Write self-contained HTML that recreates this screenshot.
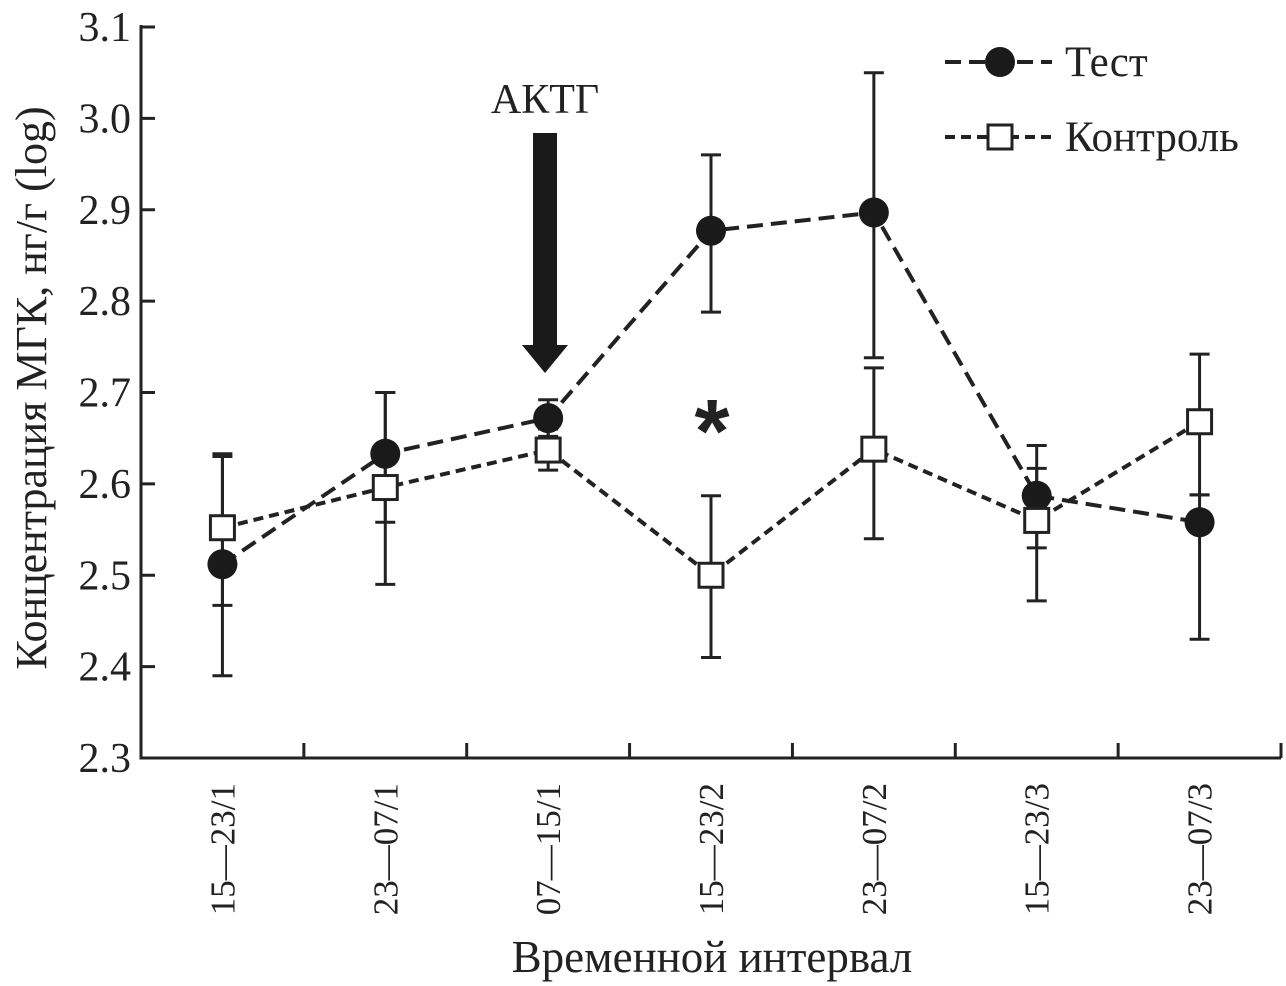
<!DOCTYPE html>
<html><head><meta charset="utf-8"><style>
body{margin:0;background:#fff;}
svg{display:block;font-family:"Liberation Serif",serif;}
</style></head><body>
<svg id="chart" width="1286" height="986" viewBox="0 0 1286 986">
<g id="axes"></g><g id="marks"></g>
<g>
 <line x1="945" y1="62" x2="1052" y2="62" stroke="#222" stroke-width="4" stroke-dasharray="16,8"/>
 <circle cx="1000" cy="62" r="15" fill="#1a1a1a"/>
 <text x="1065" y="76" font-size="43" fill="#222">Тест</text>
 <line x1="945" y1="137" x2="1052" y2="137" stroke="#222" stroke-width="4" stroke-dasharray="10,6"/>
 <rect x="988" y="125" width="24" height="24" fill="#fff" stroke="#222" stroke-width="3"/>
 <text x="1065" y="151" font-size="43" fill="#222">Контроль</text>
</g>
<g>
 <text x="545" y="113" font-size="42" text-anchor="middle" fill="#222">АКТГ</text>
 <rect x="533" y="133" width="24" height="214" fill="#1a1a1a"/>
 <polygon points="522,345 568,345 545,373" fill="#1a1a1a"/>
</g>
<text x="712" y="462" font-size="90" text-anchor="middle" fill="#222" font-family="Liberation Sans,sans-serif" font-weight="bold">*</text>
<text x="712" y="972" font-size="45" text-anchor="middle" fill="#222">Временной интервал</text>
<text transform="translate(46,388) rotate(-90)" font-size="44" text-anchor="middle" fill="#222">Концентрация МГК, нг/г (log)</text>
</svg>
<script>
const categories=["15—23/1","23—07/1","07—15/1","15—23/2","23—07/2","15—23/3","23—07/3"];
const testValues=[2.512,2.633,2.672,2.877,2.897,2.587,2.558];
const testUpper=[2.630,2.700,2.692,2.960,3.050,2.642,2.588];
const testLower=[2.390,2.558,2.652,2.788,2.738,2.530,2.430];
const controlValues=[2.552,2.596,2.637,2.500,2.638,2.560,2.668];
const controlUpper=[2.633,2.700,2.660,2.587,2.727,2.617,2.742];
const controlLower=[2.467,2.490,2.615,2.410,2.540,2.472,2.588];
const yTicks=[2.3,2.4,2.5,2.6,2.7,2.8,2.9,3.0,3.1];
const NS="http://www.w3.org/2000/svg";
const X0=141,X1=1281,Y0=758,Y1=27,YMIN=2.3,YMAX=3.1;
const bw=(X1-X0)/categories.length;
const x=i=>X0+bw*(i+0.5);
const y=v=>Y0-(v-YMIN)/(YMAX-YMIN)*(Y0-Y1);
function mk(parent,tag,attrs){const e=document.createElementNS(NS,tag);for(const k in attrs)e.setAttribute(k,attrs[k]);parent.appendChild(e);return e;}
const axes=document.getElementById('axes'),marks=document.getElementById('marks');
let a=mk(axes,'path',{d:`M${X0},${Y1-2}V${Y0}H${X1}`,fill:'none',stroke:'#222','stroke-width':3});


yTicks.forEach(t=>{
 mk(axes,'line',{x1:X0,x2:X0+14,y1:y(t),y2:y(t),stroke:'#222','stroke-width':3});
 const tx=mk(axes,'text',{x:X0-10,y:y(t)+14,'font-size':42,'text-anchor':'end',fill:'#222'});
 tx.textContent=t.toFixed(1);
 
 
});
for(let i=1;i<=categories.length;i++){mk(axes,'line',{x1:X0+bw*i,x2:X0+bw*i,y1:Y0,y2:Y0-15,stroke:'#222','stroke-width':3});}
categories.forEach((c,i)=>{
 const tx=mk(axes,'text',{transform:`translate(${x(i)+12},783) rotate(-90)`,'font-size':35,'text-anchor':'end',fill:'#222'});
 tx.textContent=c;
 
 
});
function errbars(up,lo,name){up.forEach((u,i)=>{
 const g=mk(marks,'g',{stroke:'#222','stroke-width':3});
 
 
 mk(g,'line',{x1:x(i),x2:x(i),y1:y(u),y2:y(lo[i])});
 mk(g,'line',{x1:x(i)-10,x2:x(i)+10,y1:y(u),y2:y(u)});
 mk(g,'line',{x1:x(i)-10,x2:x(i)+10,y1:y(lo[i]),y2:y(lo[i])});
});}
errbars(testUpper,testLower,'test-error-bar');
errbars(controlUpper,controlLower,'control-error-bar');
let l=mk(marks,'polyline',{points:testValues.map((v,i)=>x(i)+','+y(v)).join(' '),fill:'none',stroke:'#222','stroke-width':4,'stroke-dasharray':'16,8'});


l=mk(marks,'polyline',{points:controlValues.map((v,i)=>x(i)+','+y(v)).join(' '),fill:'none',stroke:'#222','stroke-width':4,'stroke-dasharray':'10,6'});


testValues.forEach((v,i)=>{const c=mk(marks,'circle',{cx:x(i),cy:y(v),r:15,fill:'#1a1a1a'});
 
 });
controlValues.forEach((v,i)=>{const r=mk(marks,'rect',{x:x(i)-12,y:y(v)-12,width:24,height:24,fill:'#fff',stroke:'#222','stroke-width':3});
 
 });
</script>
</body></html>
